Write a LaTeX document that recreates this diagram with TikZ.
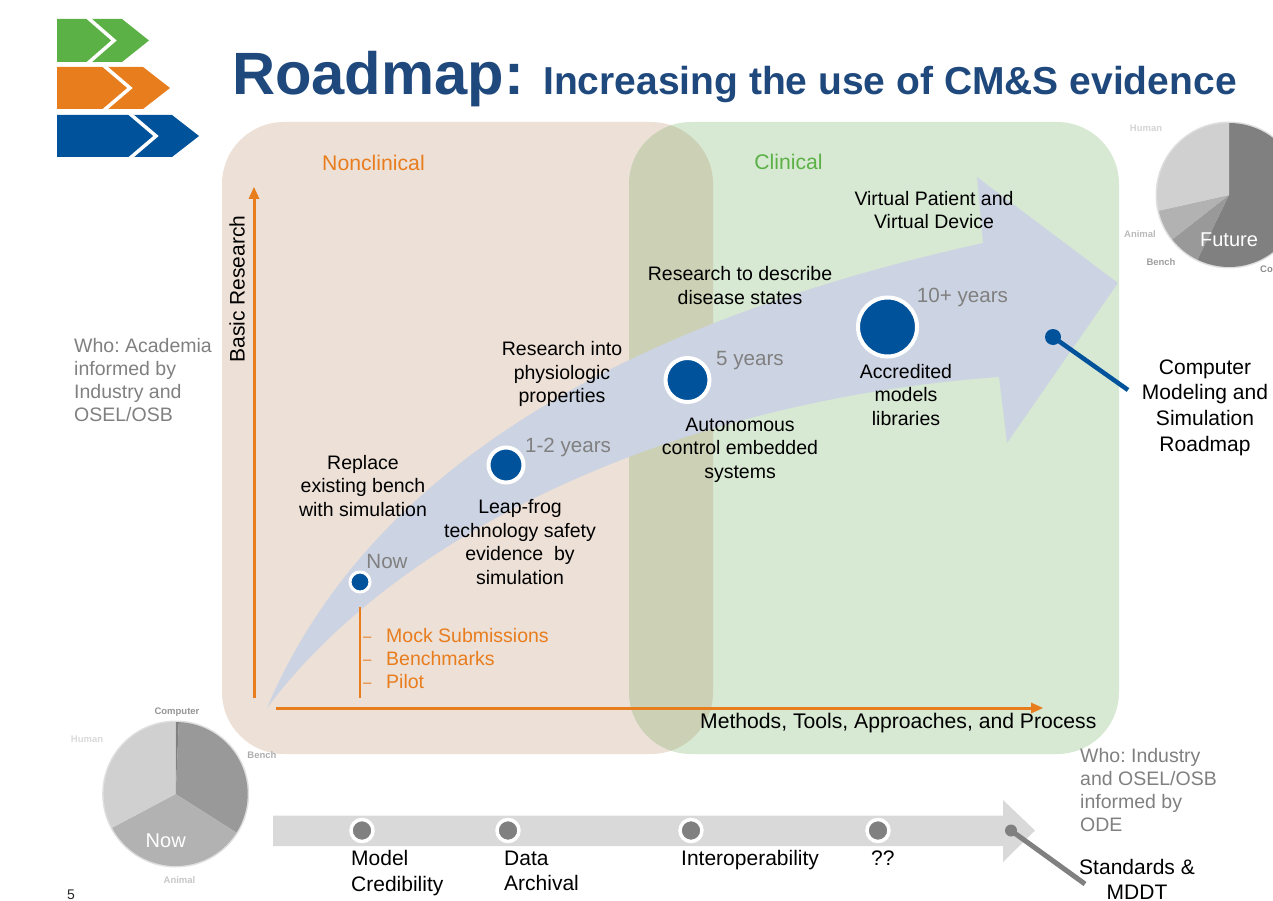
\documentclass[tikz,border=0pt]{standalone}
\usepackage{fontspec}
\setmainfont{Liberation Sans}
\definecolor{cnavy}{HTML}{1F497D}
\definecolor{cblue}{HTML}{00529B}
\definecolor{cgreen}{HTML}{5BB146}
\definecolor{corange}{HTML}{E87D1E}
\definecolor{cpeach}{HTML}{EDE0D7}
\definecolor{cmint}{HTML}{D7E9D3}
\definecolor{coverlap}{HTML}{CCD0B4}
\definecolor{carrow}{HTML}{CCD3E2}
\definecolor{cgreytext}{HTML}{808080}
\definecolor{cbar}{HTML}{D9D9D9}
\definecolor{pa}{HTML}{808080}
\definecolor{pb}{HTML}{999999}
\definecolor{pc}{HTML}{B2B2B2}
\definecolor{pd}{HTML}{D0D0D0}
\newcommand{\myslice}[3]{\fill[#3] (0,0) -- (#1:72) arc[start angle=#1,end angle=#2,radius=72] -- cycle;}
\tikzset{
  txt/.style={align=center,font=\fontsize{19.5}{23.4}\selectfont,text=black,inner sep=0pt},
  bigtxt/.style={font=\fontsize{21}{25.7}\selectfont,text=black,inner sep=0pt},
  greytxt/.style={align=left,font=\fontsize{19.5}{23.2}\selectfont,text=cgreytext,inner sep=0pt},
  orangetxt/.style={anchor=west,font=\fontsize{19.5}{23}\selectfont,text=corange,inner sep=0pt},
  dashtxt/.style={anchor=base west,font=\fontsize{15}{16}\selectfont,text=corange,inner sep=0pt},
  timetxt/.style={inner sep=0pt,text=cgreytext,font=\fontsize{20.6}{24}\selectfont},
  pielabel/.style={font=\bfseries\fontsize{9.5}{11}\selectfont,inner sep=0pt},
  pietxt/.style={font=\fontsize{20}{24}\selectfont,text=white,inner sep=0pt},
  bigdot/.style={circle,fill=cblue,draw=white,line width=4pt,inner sep=0pt},
  greydot/.style={circle,fill=pa,draw=white,line width=3.5pt,inner sep=0pt,minimum size=22pt},
  axisline/.style={draw=corange,line width=3pt},
  axistip/.style={fill=corange},
}
\begin{document}
\frenchspacing
\begin{tikzpicture}[x=1pt,y=-1pt]
\useasboundingbox (0,0) rectangle (1273,901);
\clip (0,0) rectangle (1273,901);
% logo
\fill[cgreen] (57,19) -- (122,19) -- (149,40.5) -- (122,62) -- (57,62) -- cycle;
\draw[white,line width=3.5pt] (87,17) -- (114,40.5) -- (87,64);
\fill[corange] (57,67) -- (143,67) -- (170,88) -- (143,109) -- (57,109) -- cycle;
\draw[white,line width=3.5pt] (103,65) -- (130,88) -- (103,111);
\fill[cblue] (57,115) -- (172,115) -- (199,136) -- (172,157) -- (57,157) -- cycle;
\draw[white,line width=3.5pt] (129,113) -- (156,136) -- (129,159);
% title
\node[anchor=base west,inner sep=0pt,text=cnavy,font=\bfseries\fontsize{59.7}{62}\selectfont] (title) at (232,95) {Roadmap:};
\node[anchor=base west,inner sep=0pt,text=cnavy,font=\bfseries\fontsize{39}{42}\selectfont] (subtitle) at (543,95) {Increasing the use of CM\&S evidence};
% regions
\fill[cpeach,rounded corners=62pt] (222,122) rectangle (713,754);
\fill[cmint,rounded corners=62pt] (629,122) rectangle (1119,754);
\begin{scope}
\clip[rounded corners=62pt] (222,122) rectangle (713,754);
\fill[coverlap,rounded corners=62pt] (629,122) rectangle (1119,754);
\end{scope}
\node[anchor=base,inner sep=0pt,text=corange,font=\fontsize{21.2}{25}\selectfont] (nonclin) at (373.5,171) {Nonclinical};
\node[anchor=base,inner sep=0pt,text=cgreen,font=\fontsize{21.2}{25}\selectfont] (clin) at (788.5,170) {Clinical};
% big arrow
\fill[carrow] (267,708) .. controls (380,440) and (680,310) .. (983,243) -- (977,177) -- (1118,283) -- (1007,443) -- (999,377)
  .. controls (680,400) and (400,530) .. (267,708) -- cycle;
% axes
\coordinate (yaxisA) at (254,698);
\coordinate (yaxisB) at (254,198);
\draw[axisline] (yaxisA) -- (yaxisB);
\fill[axistip] (254,187) -- (259.5,199) -- (248.5,199) -- cycle;
\coordinate (xaxisA) at (276,708);
\coordinate (xaxisB) at (1032,708);
\draw[axisline] (xaxisA) -- (xaxisB);
\fill[axistip] (1043,708) -- (1031,702.5) -- (1031,713.5) -- cycle;
\node[rotate=90,bigtxt] (basic) at (237,289) {Basic Research};
\node[bigtxt,anchor=base west,font=\fontsize{21.15}{25.7}\selectfont] (methods) at (700,728) {Methods, Tools, Approaches, and Process};
% who texts
\node[greytxt,anchor=north west] (whoA) at (74,338) {Who: Academia\\informed by\\Industry and\\OSEL/OSB};
\node[greytxt,anchor=north west] (whoB) at (1080,748) {Who: Industry\\and OSEL/OSB\\informed by\\ODE};
% now stem
\coordinate (stemA) at (360,607);
\coordinate (stemB) at (360,698);
\draw[corange,line width=1.8pt] (stemA) -- (stemB);
\node[dashtxt] (m1) at (363,641) {–};
\node[dashtxt] (m2) at (363,664) {–};
\node[dashtxt] (m3) at (363,687) {–};
\node[orangetxt] (mock) at (386,636) {Mock Submissions};
\node[orangetxt] (bench) at (386,659) {Benchmarks};
\node[orangetxt] (pilot) at (386,682) {Pilot};
% dots
\node[bigdot,line width=3pt,minimum size=20pt] (d0) at (360,582) {};
\node[bigdot,minimum size=35pt] (d1) at (506,465) {};
\node[bigdot,minimum size=44pt] (d2) at (687.5,380) {};
\node[bigdot,minimum size=59pt] (d3) at (887.5,327) {};
\node[circle,fill=cblue,inner sep=0pt,minimum size=16pt] (d4) at (1053,337) {};
\coordinate (d4end) at (1128,390);
\draw[cblue,line width=4.5pt] (d4.center) -- (d4end);
% time labels
\node[timetxt] (t0) at (387,562) {Now};
\node[timetxt] (t1) at (568,447) {1-2 years};
\node[timetxt] (t2) at (750,360.5) {5 years};
\node[timetxt] (t3) at (962.5,297) {10+ years};
% black labels
\node[txt] (l1) at (363,486) {Replace\\existing bench\\with simulation};
\node[txt] (l2) at (562,374) {Research into\\physiologic\\properties};
\node[txt] (l3) at (520,542) {Leap-frog\\technology safety\\evidence\ \ by\\simulation};
\node[txt] (l4) at (740,285.5) {Research to describe\\disease states};
\node[txt] (l5) at (740,450) {Autonomous\\control embedded\\systems};
\node[txt] (l6) at (934,210) {Virtual Patient and\\Virtual Device};
\node[txt] (l7) at (906,395) {Accredited\\models\\libraries};
\node[bigtxt,align=center] (l8) at (1205,407.5) {Computer\\Modeling and\\Simulation\\Roadmap};
% future pie
\begin{scope}[shift={(1229,195)},x=1pt,y=1pt]
\fill[black!25,opacity=.5] (0,0) circle[radius=73.5];
\myslice{90}{-116}{pa}
\myslice{244}{218}{pb}
\myslice{218}{192.6}{pc}
\myslice{192.6}{90}{pd}
\node[pietxt] (future) at (0,-45) {Future};
\end{scope}
\node[pielabel,text=black!17] (fhuman) at (1146,128) {Human};
\node[pielabel,text=black!27] (fanimal) at (1140,234) {Animal};
\node[pielabel,text=black!38] (fbench) at (1161,262) {Bench};
\node[pielabel,text=black!45,anchor=east] (fco) at (1273,269) {Co};
% now pie
\begin{scope}[shift={(175.7,794)},x=1pt,y=1pt]
\fill[black!25,opacity=.5] (0,0) circle[radius=73.5];
\myslice{90}{87.5}{pa}
\myslice{87.5}{-32.4}{pb}
\myslice{-32.4}{-152}{pc}
\myslice{208}{90}{pd}
\node[pietxt] (nowpie) at (-10,-47) {Now};
\end{scope}
\node[pielabel,text=black!42] (ncomp) at (177,712) {Computer};
\node[pielabel,text=black!15] (nhuman) at (87,739) {Human};
\node[pielabel,text=black!32] (nbench) at (262,755) {Bench};
\node[pielabel,text=black!22] (nanimal) at (179.5,880) {Animal};
% bottom arrow
\fill[cbar] (273,815.5) -- (1003,815.5) -- (1003,800) -- (1035,830.5) -- (1003,862) -- (1003,846) -- (273,846) -- cycle;
\node[greydot] (g1) at (362,830.5) {};
\node[greydot] (g2) at (508,830.5) {};
\node[greydot] (g3) at (691,830.5) {};
\node[greydot] (g4) at (878,830.5) {};
\node[circle,fill=pa,inner sep=0pt,minimum size=12pt] (g5) at (1011,830.5) {};
\coordinate (g5end) at (1085,884);
\draw[pa,line width=5pt] (g5.center) -- (g5end);
\node[bigtxt,align=left,anchor=north west] (b1) at (351,850.5) {Model\\Credibility};
\node[bigtxt,align=left,anchor=north west] (b2) at (504,850.5) {Data\\Archival};
\node[bigtxt,anchor=base west] (b3) at (681,865) {Interoperability};
\node[bigtxt,anchor=base west] (b4) at (871,865) {??};
\node[bigtxt,align=center,anchor=south,text depth=0pt] (b5) at (1137,900) {Standards \&\\MDDT};
\node[inner sep=0pt,font=\fontsize{14}{16}\selectfont,text=black!85] (pagenum) at (71,895) {5};
\end{tikzpicture}
\end{document}
